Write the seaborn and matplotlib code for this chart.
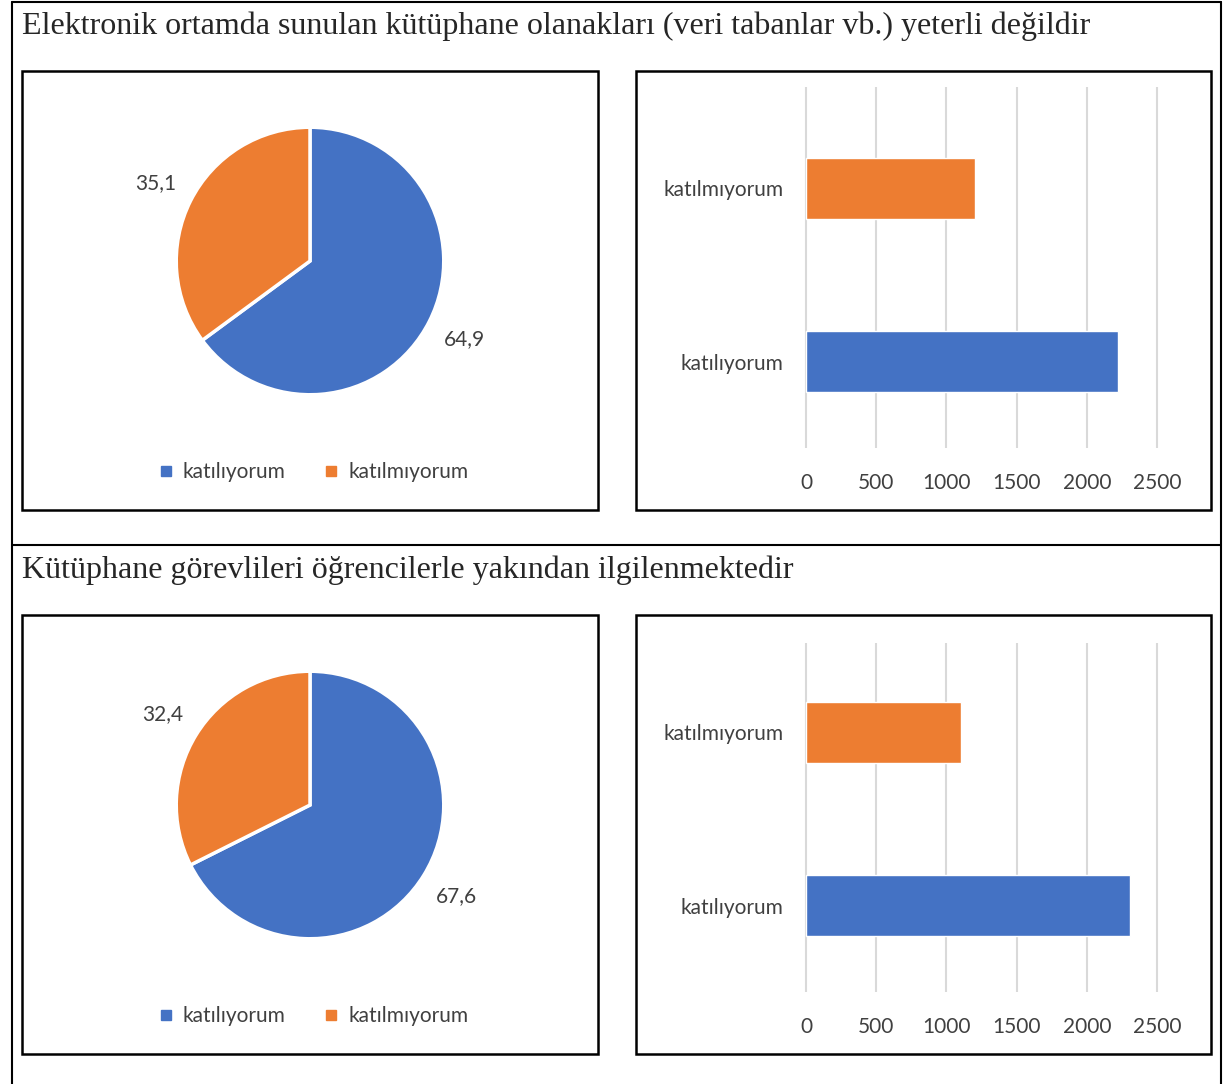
"""
Two survey items shown as a table: a pie of percentages next to a bar chart
of raw counts for each item. Rebuilt with seaborn / matplotlib.
"""

import numpy as np
import pandas as pd
import matplotlib.pyplot as plt
import seaborn as sns
from matplotlib.patches import Rectangle
from matplotlib.lines import Line2D

# --- data ---
questions = [
    "Elektronik ortamda sunulan kütüphane olanakları (veri tabanlar vb.) yeterli değildir",
    "Kütüphane görevlileri öğrencilerle yakından ilgilenmektedir",
]
categories = ["katılıyorum", "katılmıyorum"]
pie_agree = [64.9, 67.6]
pie_disagree = [35.1, 32.4]
bar_agree = [2222, 2308]
bar_disagree = [1204, 1104]
x_ticks = [0, 500, 1000, 1500, 2000, 2500]

BLUE = "#4472C4"
ORANGE = "#ED7D31"
PALETTE = {"katılıyorum": BLUE, "katılmıyorum": ORANGE}

W, H = 1223, 1084
ROW_DY = 544
GRID_TOP = [87, 643]  # top of gridlines per row (px from top)
FS = 15

sns.set_style("white")
plt.rcParams["font.family"] = ["Lato", "DejaVu Sans"]


def px_rect(x0, y0, x1, y1):
    """pixel box (from top-left) -> figure fraction rect"""
    return [x0 / W, 1 - y1 / H, (x1 - x0) / W, (y1 - y0) / H]


def fmt(v):
    return f"{v:.1f}".replace(".", ",")


fig = plt.figure(figsize=(W / 100, H / 100), dpi=100)

# --- table lines ---
tline = dict(color="black", lw=1.5, transform=fig.transFigure)
fig.add_artist(Line2D([12 / W, 12 / W], [0, 1 - 2 / H], **tline))
fig.add_artist(Line2D([1221 / W, 1221 / W], [0, 1 - 2 / H], **tline))
fig.add_artist(Line2D([12 / W, 1221 / W], [1 - 2 / H, 1 - 2 / H], **tline))
fig.add_artist(Line2D([12 / W, 1221 / W], [1 - 545 / H, 1 - 545 / H], **tline))

for i, q in enumerate(questions):
    dy = i * ROW_DY

    fig.text(22 / W, 1 - (26 + dy) / H, q, family=["Liberation Serif", "DejaVu Serif"],
             fontsize=23, va="center", ha="left")

    # chart frames
    for x0, x1 in [(22, 598), (636, 1211)]:
        r = px_rect(x0, 71 + dy, x1, 510 + dy)
        fig.add_artist(Rectangle((r[0], r[1]), r[2], r[3], transform=fig.transFigure,
                                 fill=False, edgecolor="black", lw=1.8))

    # --- pie ---
    ax_pie = fig.add_axes(px_rect(96, 47 + dy, 524, 475 + dy))
    vals = [pie_agree[i], pie_disagree[i]]
    wedges, texts = ax_pie.pie(
        vals, colors=[BLUE, ORANGE], startangle=90, counterclock=False,
        labels=[fmt(v) for v in vals], labeldistance=1.29,
        wedgeprops=dict(edgecolor="white", linewidth=2.5),
        textprops=dict(fontsize=FS, color="#404040"),
    )
    for t in texts:
        t.set_ha("center")
        t.set_va("center")
    ax_pie.set_xlim(-1.6, 1.6)
    ax_pie.set_ylim(-1.6, 1.6)
    ax_pie.set_aspect("equal")

    handles = [Line2D([], [], marker="s", ls="", markersize=7, color=c) for c in (BLUE, ORANGE)]
    fig.legend(handles, categories, loc="center", bbox_to_anchor=(314 / W, 1 - (472 + dy) / H),
               ncol=2, frameon=False, fontsize=FS, handlelength=0.6, handletextpad=0.5,
               columnspacing=1.9, labelcolor="#404040")

    # --- bars ---
    top = GRID_TOP[i]
    ax_bar = fig.add_axes(px_rect(800, top, 1163, 448 + dy))
    df = pd.DataFrame({
        "cat": ["katılmıyorum", "katılıyorum"],
        "value": [bar_disagree[i], bar_agree[i]],
    })
    sns.barplot(data=df, y="cat", x="value", hue="cat", order=["katılmıyorum", "katılıyorum"],
                palette=PALETTE, width=0.353, saturation=1, legend=False, orient="h", ax=ax_bar)
    px_per_unit = 351 / 2500
    ax_bar.set_xlim(-6 / px_per_unit, 2500 + 6 / px_per_unit)
    ax_bar.set_ylim(1.5, 1.5 - (448 + dy - top) / 173)
    ax_bar.set_xticks(x_ticks)
    ax_bar.set_xlabel("")
    ax_bar.set_ylabel("")
    ax_bar.grid(axis="x", color="#D9D9D9", lw=1.5)
    ax_bar.grid(axis="y", visible=False)
    ax_bar.set_axisbelow(True)
    for s in ax_bar.spines.values():
        s.set_visible(False)
    ax_bar.tick_params(axis="x", length=0, pad=18, labelsize=FS, labelcolor="#404040")
    ax_bar.tick_params(axis="y", length=0, pad=12, labelsize=FS, labelcolor="#404040")

fig.savefig("out.png", dpi=100)
